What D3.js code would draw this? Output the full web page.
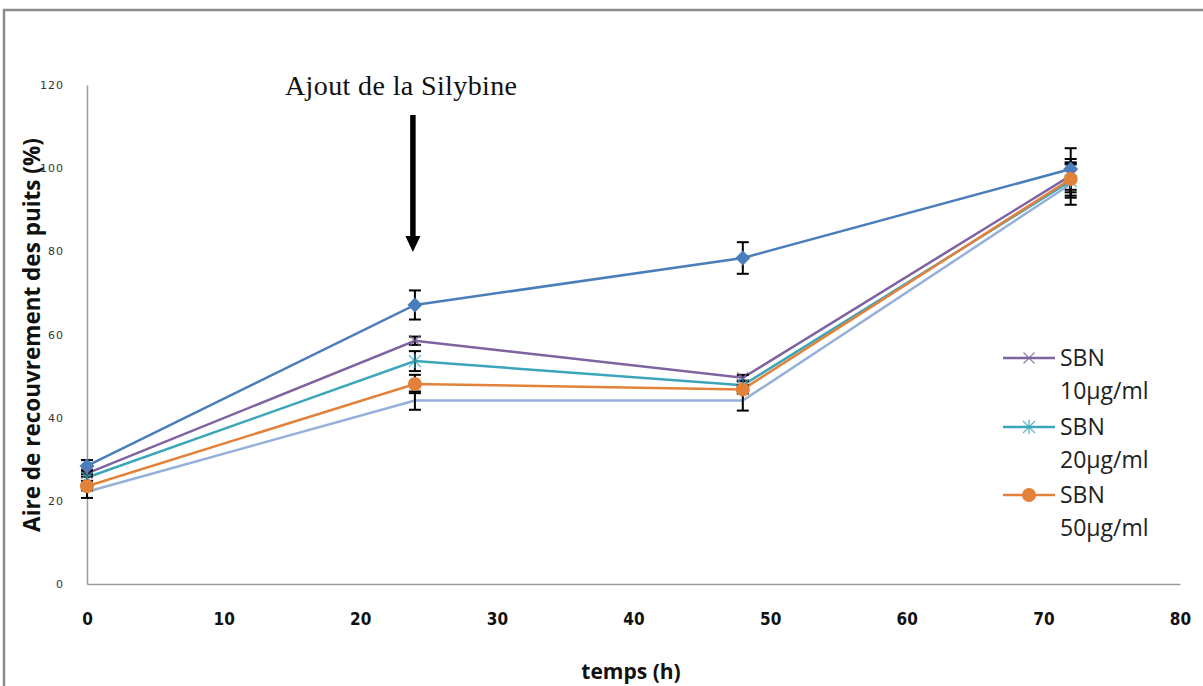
<!DOCTYPE html>
<html>
<head>
<meta charset="utf-8">
<script src="https://cdn.jsdelivr.net/npm/d3@7"></script>
<style>
  html, body { margin: 0; padding: 0; background: #fff; }
  svg { display: block; }
</style>
</head>
<body>
<svg id="chart" width="1203" height="686"></svg>
<script>
// ---- data ----
const times = [0, 24, 48, 72];
const xTicks = [0, 10, 20, 30, 40, 50, 60, 70, 80];
const yTicks = [0, 20, 40, 60, 80, 100, 120];

const seriesNames = ["Témoin", "SBN 10µg/ml", "SBN 20µg/ml", "SBN 50µg/ml", "Contrôle"];
const valuesControl = [28.4, 67.1, 78.4, 99.8];
const values10 = [26.6, 58.5, 49.6, 98.2];
const values20 = [25.6, 53.6, 47.8, 96.9];
const values50 = [23.5, 48.1, 46.8, 97.4];
const valuesLight = [22.2, 44.1, 44.1, 96.2];

const errControl = [1.4, 3.5, 3.8, 5.0];
const err10 = [0.8, 1.0, 0.7, 4.0];
const err20 = [0.8, 2.4, 1.0, 4.0];
const err50 = [1.0, 2.2, 1.0, 4.0];
const errLight = [1.5, 2.2, 2.4, 5.0];

const colors = ["#4a7ebb", "#7f62a0", "#3aa6b9", "#e2823a", "#94b0da"];
const markers = ["diamond", "cross", "star", "circle", "none"];
const legendShown = [1, 2, 3];
const legendLines = [["SBN", "10µg/ml"], ["SBN", "20µg/ml"], ["SBN", "50µg/ml"]];

const annotationText = "Ajout de la Silybine";
const annotationTime = 24;
const xTitle = "temps (h)";
const yTitle = "Aire de recouvrement des puits (%)";

const allValues = [valuesControl, values10, values20, values50, valuesLight];
const allErrors = [errControl, err10, err20, err50, errLight];

// ---- chart ----
const svg = d3.select("#chart");

// outer border (grey frame)
svg.append("path")
  .attr("d", "M4,690 L4,10 L1210,10")
  .attr("fill", "none").attr("stroke", "#8a8a8a").attr("stroke-width", 2.5);

const x = d3.scaleLinear().domain([0, 80]).range([87, 1180]);
const y = d3.scaleLinear().domain([0, 120]).range([584, 85]);

// axes
const xAxis = svg.append("g").attr("transform", `translate(0,${y(0)})`)
  .call(d3.axisBottom(x).tickValues(xTicks).tickSize(0).tickPadding(29).tickFormat(d3.format("d")));
xAxis.select(".domain").attr("stroke", "#9a9a9a").attr("stroke-width", 1.5);
xAxis.selectAll("text")
  .attr("font-family", "'DejaVu Sans Condensed', 'DejaVu Sans', sans-serif")
  .attr("font-weight", "bold").attr("font-size", 17).attr("fill", "#111");

const yAxis = svg.append("g").attr("transform", `translate(${x(0)},0)`)
  .call(d3.axisLeft(y).tickValues(yTicks).tickSize(0).tickPadding(23).tickFormat(d3.format("d")));
yAxis.select(".domain").attr("stroke", "#9a9a9a").attr("stroke-width", 1.5);
yAxis.selectAll("text")
  .attr("font-family", "'DejaVu Sans', sans-serif")
  .attr("font-size", 11).attr("fill", "#333").attr("letter-spacing", 1);

// axis titles
svg.append("text")
  .attr("x", 631).attr("y", 679)
  .attr("text-anchor", "middle")
  .attr("font-family", "'Open Sans', sans-serif").attr("font-weight", "bold")
  .attr("font-size", 21).attr("fill", "#111")
  .text(xTitle);

svg.append("text")
  .attr("transform", "translate(40,335) rotate(-90)")
  .attr("text-anchor", "middle")
  .attr("font-family", "'Open Sans', sans-serif").attr("font-weight", "bold")
  .attr("font-size", 22.5).attr("fill", "#111")
  .text(yTitle);

// annotation
svg.append("text")
  .attr("x", 285).attr("y", 95)
  .attr("textLength", 232).attr("lengthAdjust", "spacing")
  .attr("font-family", "'Liberation Serif', 'Times New Roman', serif")
  .attr("font-size", 28).attr("fill", "#111")
  .text(annotationText);

const ax = x(annotationTime) - 2;
svg.append("line")
  .attr("x1", ax).attr("x2", ax).attr("y1", 115).attr("y2", 238)
  .attr("stroke", "#000").attr("stroke-width", 5.5);
svg.append("path")
  .attr("d", `M${ax - 7.5},236 L${ax + 7.5},236 L${ax},252 Z`)
  .attr("fill", "#000");

// lines
const line = d3.line().x((d, i) => x(times[i])).y(d => y(d));
allValues.forEach((vals, s) => {
  svg.append("path")
    .datum(vals)
    .attr("d", line)
    .attr("fill", "none")
    .attr("stroke", colors[s])
    .attr("stroke-width", 2.5);
});

// error bars
allValues.forEach((vals, s) => {
  const g = svg.append("g").attr("stroke", "#000").attr("stroke-width", 2);
  vals.forEach((v, i) => {
    const e = allErrors[s][i];
    const cx = x(times[i]);
    g.append("line").attr("x1", cx).attr("x2", cx).attr("y1", y(v + e)).attr("y2", y(v - e));
    g.append("line").attr("x1", cx - 6).attr("x2", cx + 6).attr("y1", y(v + e)).attr("y2", y(v + e));
    g.append("line").attr("x1", cx - 6).attr("x2", cx + 6).attr("y1", y(v - e)).attr("y2", y(v - e));
  });
});

// markers
function drawMarker(g, type, cx, cy, color, scale) {
  scale = scale || 1;
  if (type === "diamond") {
    const r = 7.5 * scale;
    g.append("path").attr("d", `M${cx},${cy - r} L${cx + r},${cy} L${cx},${cy + r} L${cx - r},${cy} Z`)
      .attr("fill", color);
  } else if (type === "circle") {
    g.append("circle").attr("cx", cx).attr("cy", cy).attr("r", 7 * scale).attr("fill", color);
  } else if (type === "cross") {
    const r = 5.5 * scale;
    g.append("path").attr("d", `M${cx - r},${cy - r} L${cx + r},${cy + r} M${cx - r},${cy + r} L${cx + r},${cy - r}`)
      .attr("stroke", color).attr("stroke-width", 1.3).attr("fill", "none").attr("opacity", 0.8);
  } else if (type === "star") {
    const r = 6 * scale;
    g.append("path").attr("d", `M${cx - r},${cy - r} L${cx + r},${cy + r} M${cx - r},${cy + r} L${cx + r},${cy - r} M${cx},${cy - r * 1.2} L${cx},${cy + r * 1.2}`)
      .attr("stroke", color).attr("stroke-width", 1.3).attr("fill", "none").attr("opacity", 0.8);
  }
}
allValues.forEach((vals, s) => {
  const g = svg.append("g");
  vals.forEach((v, i) => drawMarker(g, markers[s], x(times[i]), y(v), colors[s]));
});

// legend
const legend = svg.append("g");
const rowY = [358, 427, 495];
legendShown.forEach((s, k) => {
  const ly = rowY[k];
  legend.append("line").attr("x1", 1003).attr("x2", 1055).attr("y1", ly).attr("y2", ly)
    .attr("stroke", colors[s]).attr("stroke-width", 2.5);
  drawMarker(legend, markers[s], 1029, ly, colors[s]);
  legendLines[k].forEach((t, j) => {
    legend.append("text")
      .attr("x", 1060).attr("y", ly + 8 + j * 33)
      .attr("font-family", "'Open Sans', sans-serif")
      .attr("font-size", 23).attr("fill", "#222")
      .text(t);
  });
});
</script>
</body>
</html>
